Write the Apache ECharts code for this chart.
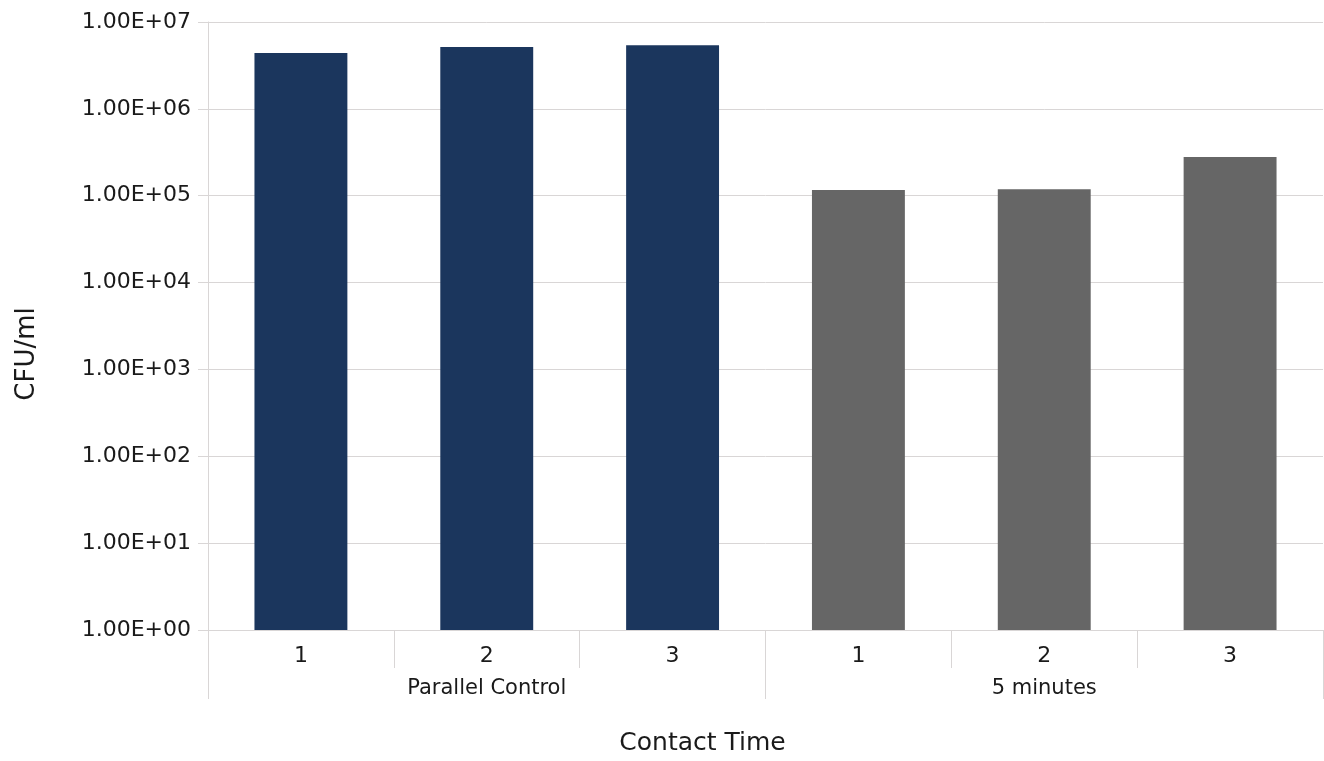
<!DOCTYPE html>
<html lang="en">

<head>
    <meta charset="UTF-8">
    <title>CFU/ml by Contact Time</title>
    <style>
        * {
            padding: 0;
            margin: 0;
        }
    </style>
    <script type="text/javascript" src="https://cdn.jsdelivr.net/npm/echarts@6/dist/echarts.min.js"></script>
</head>

<body>
    <div id="main" style="width: 1324px;height:761px;"></div>
    <script type="text/javascript">
    // data
    var replicates = ['1', '2', '3', '1', '2', '3'];
    var groups = ['Parallel Control', '5 minutes'];
    var groupOfBar = [0, 0, 0, 1, 1, 1];
    var cfu = [4.4e6, 5.15e6, 5.4e6, 1.16e5, 1.19e5, 2.79e5];

    var groupColors = ['#1b365d', '#666666'];
    var gridColor = '#d9d6d6';
    var font = 'DejaVu Sans';

    var myChart = echarts.init(document.getElementById('main'));

    var barData = cfu.map(function(v, i) {
        return {
            value: v,
            itemStyle: { color: groupColors[groupOfBar[i]] }
        };
    });

    // 1.00E+07 style labels
    function sciLabel(val) {
        var exp = Math.round(Math.log10(val));
        var s = exp < 10 ? '0' + exp : '' + exp;
        return '1.00E+' + s;
    }

    var option = {
        backgroundColor: '#ffffff',
        animation: false,
        grid: {
            left: 208,
            right: 1,
            top: 22,
            bottom: 131
        },
        xAxis: [{
                type: 'category',
                data: replicates,
                position: 'bottom',
                axisLine: { show: true, lineStyle: { color: gridColor, width: 1 } },
                axisTick: { show: true, length: 38, lineStyle: { color: gridColor } },
                axisLabel: {
                    color: '#1a1a1a',
                    fontFamily: font,
                    fontSize: 22,
                    margin: 15
                }
            },
            {
                type: 'category',
                data: groups,
                position: 'bottom',
                offset: 0,
                axisLine: { show: false },
                axisTick: { show: true, length: 69, lineStyle: { color: gridColor } },
                axisLabel: {
                    color: '#1a1a1a',
                    fontFamily: font,
                    fontSize: 21,
                    margin: 48
                },
                name: 'Contact Time',
                nameLocation: 'middle',
                nameGap: 101,
                nameTextStyle: {
                    color: '#1a1a1a',
                    fontFamily: font,
                    fontSize: 25,
                    padding: [0, 126, 0, 0]
                }
            }
        ],
        yAxis: {
            type: 'log',
            logBase: 10,
            min: 1,
            max: 1e7,
            name: 'CFU/ml',
            nameLocation: 'middle',
            nameGap: 168,
            nameTextStyle: {
                color: '#1a1a1a',
                fontFamily: font,
                fontSize: 26,
                padding: [0, 56, 0, 0]
            },
            axisLine: { show: true, lineStyle: { color: gridColor } },
            axisTick: { show: true, length: 10, lineStyle: { color: gridColor } },
            splitLine: { show: true, lineStyle: { color: gridColor, width: 1 } },
            axisLabel: {
                color: '#1a1a1a',
                fontFamily: font,
                fontSize: 22,
                margin: 17,
                formatter: sciLabel
            }
        },
        series: [{
            name: 'CFU/ml',
            type: 'bar',
            xAxisIndex: 0,
            barWidth: '50%',
            data: barData
        }]
    };

    myChart.setOption(option);
    </script>
</body>

</html>
